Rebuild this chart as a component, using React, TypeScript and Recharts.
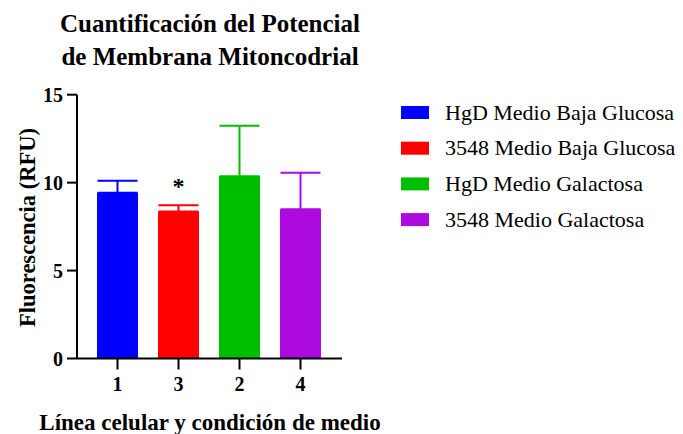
import React from 'react';
import { BarChart, Bar, XAxis, YAxis, Cell, ErrorBar, LabelList } from 'recharts';

const categories = ['1', '3', '2', '4'];
const seriesNames = [
  'HgD Medio Baja Glucosa',
  '3548 Medio Baja Glucosa',
  'HgD Medio Galactosa',
  '3548 Medio Galactosa',
];
const means = [9.43, 8.36, 10.36, 8.48];
const errorsUp = [0.68, 0.36, 2.88, 2.08];
const significance = ['', '*', '', ''];
const yTicks = [0, 5, 10, 15];
const colors = ['#0000FF', '#FF0000', '#00BF00', '#AD0AE0'];

const titleLines = ['Cuantificación del Potencial', 'de Membrana Mitoncodrial'];
const xTitle = 'Línea celular y condición de medio';
const yTitle = 'Fluorescencia (RFU)';

const FONT = 'Liberation Serif, serif';
const fontStyle = { fontFamily: FONT };

const data = categories.map((c, i) => {
  const row: any = { cat: c, value: means[i], mark: significance[i] };
  categories.forEach((_, j) => {
    row['err' + j] = j === i ? [0, errorsUp[i]] : undefined;
  });
  return row;
});

const MarkLabel = (props: any) => {
  const { x, y, width, value } = props;
  if (!value) return null;
  return (
    <text
      x={Number(x) + Number(width) / 2}
      y={Number(y) - 17}
      textAnchor="middle"
      style={fontStyle}
      fontWeight="bold"
      fontSize={24}
      fill="#000"
    >
      {value}
    </text>
  );
};

export default function App() {
  return (
    <div style={{ position: 'absolute', left: 0, top: 0, width: 683, height: 434, background: '#fff', fontFamily: FONT }}>
      <style>{`text, tspan { font-family: "Liberation Serif", serif !important; }`}</style>
      <BarChart
        width={683}
        height={434}
        data={data}
        margin={{ top: 94.7, right: 341, bottom: 0, left: 0 }}
      >
        <XAxis
          dataKey="cat"
          height={75.5}
          padding={{ left: 10, right: 11 }}
          axisLine={{ stroke: '#000', strokeWidth: 2 }}
          tickLine={{ stroke: '#000', strokeWidth: 2 }}
          tickSize={11}
          tickMargin={7}
          tick={{ fontSize: 20, fontWeight: 'bold', fill: '#000', style: fontStyle }}
        />
        <YAxis
          width={77}
          domain={[0, 15]}
          ticks={yTicks}
          allowDataOverflow
          axisLine={{ stroke: '#000', strokeWidth: 2 }}
          tickLine={{ stroke: '#000', strokeWidth: 2 }}
          tickSize={10}
          tickMargin={4}
          tick={{ fontSize: 20, fontWeight: 'bold', fill: '#000', style: fontStyle }}
        />
        <Bar dataKey="value" barSize={41} isAnimationActive={false}>
          {data.map((_, i) => (
            <Cell key={i} fill={colors[i]} />
          ))}
          {categories.map((_, j) => (
            <ErrorBar
              key={'e' + j}
              dataKey={'err' + j}
              width={20}
              stroke={colors[j]}
              strokeWidth={2}
              direction="y"
              isAnimationActive={false}
            />
          ))}
          <LabelList dataKey="mark" content={MarkLabel} />
        </Bar>
      </BarChart>
      <svg
        width={683}
        height={434}
        style={{ position: 'absolute', left: 0, top: 0, pointerEvents: 'none' }}
      >
        {titleLines.map((t, i) => (
          <text key={i} x={210} y={31.7 + i * 33.3} textAnchor="middle" fontWeight="bold" fontSize={25} fill="#000" style={fontStyle}>
            {t}
          </text>
        ))}
        <text x={210} y={430} textAnchor="middle" fontWeight="bold" fontSize={23} fill="#000" style={fontStyle}>
          {xTitle}
        </text>
        <text
          x={35}
          y={227.5}
          transform="rotate(-90, 35, 227.5)"
          textAnchor="middle"
          fontWeight="bold"
          fontSize={22.5}
          fill="#000"
          style={fontStyle}
        >
          {yTitle}
        </text>
        {seriesNames.map((name, i) => {
          const cy = 112.5 + i * 35.7;
          return (
            <g key={name}>
              <rect x={401} y={cy - 6.5} width={28} height={13} fill={colors[i]} />
              <text x={445} y={cy + 7} fontSize={22} fill="#000" style={fontStyle}>
                {name}
              </text>
            </g>
          );
        })}
      </svg>
    </div>
  );
}
